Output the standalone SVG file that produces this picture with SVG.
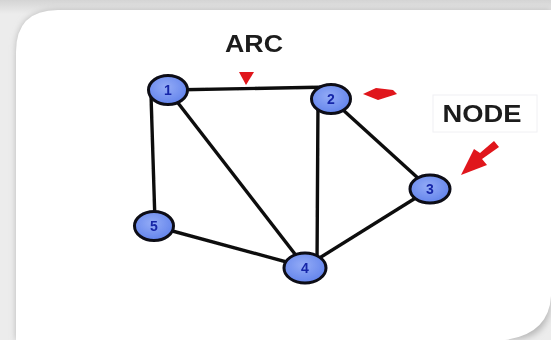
<svg xmlns="http://www.w3.org/2000/svg" width="551" height="340" viewBox="0 0 551 340">
  <defs>
    <linearGradient id="frameTop" x1="0" y1="0" x2="0" y2="1">
      <stop offset="0" stop-color="#d4d4d4"/>
      <stop offset="1" stop-color="#ececec"/>
    </linearGradient>
    <radialGradient id="nodeFill" cx="0.45" cy="0.4" r="0.6">
      <stop offset="0" stop-color="#93abf6"/>
      <stop offset="1" stop-color="#6384ec"/>
    </radialGradient>
    <filter id="soft" x="-20%" y="-20%" width="140%" height="140%">
      <feGaussianBlur stdDeviation="3"/>
    </filter>
    <filter id="blur1" x="-30%" y="-30%" width="160%" height="160%">
      <feGaussianBlur stdDeviation="0.6"/>
    </filter>
    <style>
      .edge { stroke: #111; stroke-width: 3.4; stroke-linecap: round; fill: none; }
      .node ellipse { fill: url(#nodeFill); stroke: #0a0a14; stroke-width: 3; }
      .node text { font-family: "Liberation Sans", Arial, sans-serif; font-weight: bold; font-size: 14px; fill: #1526a8; text-anchor: middle; dominant-baseline: central; }
      .label { font-family: "Liberation Sans", Arial, sans-serif; font-weight: bold; font-size: 23px; fill: #1c1c1c; text-anchor: middle; }
      .pointer { fill: #e0141a; }
    </style>
  </defs>

  <!-- grey frame behind the card -->
  <rect x="0" y="0" width="551" height="340" fill="#ececec"/>
  <rect x="0" y="0" width="551" height="14" fill="url(#frameTop)"/>
  <!-- card shadow and card -->
  <path d="M16 52 Q16 10 58 10 L551 10 L551 298 Q551 340 509 340 L16 340 Z" fill="#b8b8b8" filter="url(#soft)"/>
  <path d="M16 52 Q16 10 58 10 L551 10 L551 296 Q549 334 505 340 L16 340 Z" fill="#ffffff"/>

  <!-- connectors -->
  <g id="edges" filter="url(#blur1)">
    <line class="edge" x1="168" y1="90" x2="331" y2="87"/>
    <line class="edge" x1="151" y1="95" x2="155" y2="222"/>
    <line class="edge" x1="168" y1="90" x2="305" y2="267"/>
    <line class="edge" x1="318" y1="100" x2="317" y2="266"/>
    <line class="edge" x1="331" y1="99" x2="430" y2="189"/>
    <line class="edge" x1="430" y1="189" x2="305" y2="267"/>
    <line class="edge" x1="154" y1="226" x2="305" y2="267"/>
  </g>

  <!-- nodes -->
  <g id="node-1" class="node" filter="url(#blur1)">
    <ellipse cx="168" cy="90" rx="19.5" ry="14.5"/>
    <text x="168" y="90">1</text>
  </g>
  <g id="node-2" class="node" filter="url(#blur1)">
    <ellipse cx="331" cy="99" rx="19.5" ry="14.5"/>
    <text x="331" y="99">2</text>
  </g>
  <g id="node-3" class="node" filter="url(#blur1)">
    <ellipse cx="430" cy="189" rx="20" ry="14"/>
    <text x="430" y="189">3</text>
  </g>
  <g id="node-4" class="node" filter="url(#blur1)">
    <ellipse cx="305" cy="268" rx="21" ry="15"/>
    <text x="305" y="268">4</text>
  </g>
  <g id="node-5" class="node" filter="url(#blur1)">
    <ellipse cx="154" cy="226" rx="19.5" ry="14.5"/>
    <text x="154" y="226">5</text>
  </g>

  <!-- labels and red pointers -->
  <g id="arc-label" filter="url(#blur1)">
    <text class="label" x="254" y="52" textLength="58" lengthAdjust="spacingAndGlyphs">ARC</text>
    <polygon class="pointer" points="239,72 254,72 246,85"/>
  </g>
  <g id="node-label">
    <rect x="433" y="95" width="104" height="37" fill="#ffffff" stroke="#f0f0f3" stroke-width="1"/>
    <line x1="434" y1="133" x2="537" y2="133" stroke="#c8c8dc" stroke-width="1.5" filter="url(#blur1)"/>
    <text class="label" x="482" y="122" textLength="79" lengthAdjust="spacingAndGlyphs" filter="url(#blur1)">NODE</text>
  </g>
  <g id="pointers" filter="url(#blur1)">
    <path class="pointer" d="M363 94 L376 88 L393 90 L397 94 L378 100 Z"/>
    <path class="pointer" d="M499 147 L494 141 L480 153 L474 149 L461 175 L487 165 L482 159 Z"/>
  </g>
</svg>
